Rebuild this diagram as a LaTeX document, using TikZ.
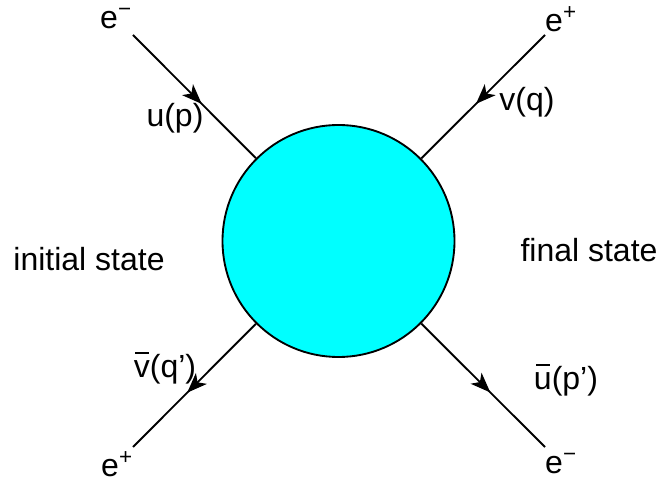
\documentclass[tikz,border=0pt]{standalone}
\usepackage{fontspec}
\setmainfont{Liberation Sans}
\usetikzlibrary{arrows.meta,decorations.markings}
\definecolor{blobcyan}{RGB}{0,255,255}
\newcommand\barletter[1]{\setbox0\hbox{#1}\rlap{\hbox to\wd0{\hss\raisebox{0.74em}{\rule{0.42em}{0.055em}}\hss}}#1}
\begin{document}
\begin{tikzpicture}[
    x=0.75pt, y=-0.75pt,
    blob/.style={circle, draw, line width=1.4pt, fill=blobcyan, minimum size=174pt, inner sep=0pt},
    leg/.style={line width=1.4pt, postaction={decorate},
      decoration={markings, mark=at position 0.56 with {\arrow{Stealth[length=15pt,width=11.5pt,inset=4pt]}}}},
    lbl/.style={font=\fontsize{24}{28}\selectfont, inner sep=0pt}
  ]
    \useasboundingbox (0,0) rectangle (660,484);
    \node[blob] (vertex) at (338.5,241) {};

    \coordinate (inm) at (133,35);
    \coordinate (inp) at (545,35);
    \coordinate (outp) at (133,447);
    \coordinate (outm) at (545,447);

    \node[lbl] (einm) at (116,19) {e\textsuperscript{−}};
    \node[lbl] (einp) at (561,19) {e\textsuperscript{+}};
    \node[lbl] (eoutp) at (117,464) {e\textsuperscript{+}};
    \node[lbl] (eoutm) at (561,464) {e\textsuperscript{−}};

    \draw[leg] (inm) -- (vertex);
    \draw[leg] (inp) -- (vertex);
    \draw[leg] (vertex) -- (outp);
    \draw[leg] (vertex) -- (outm);

    \node[lbl] (up) at (175,118) {u(p)};
    \node[lbl] (vq) at (527,102) {v(q)};
    \node[lbl] (vbq) at (165,368) {\barletter{v}(q’)};
    \node[lbl] (ubp) at (566,380) {\barletter{u}(p’)};

    \node[lbl] (init) at (89,259) {initial state};
    \node[lbl] (fin) at (589,250) {final state};
  \end{tikzpicture}
\end{document}
